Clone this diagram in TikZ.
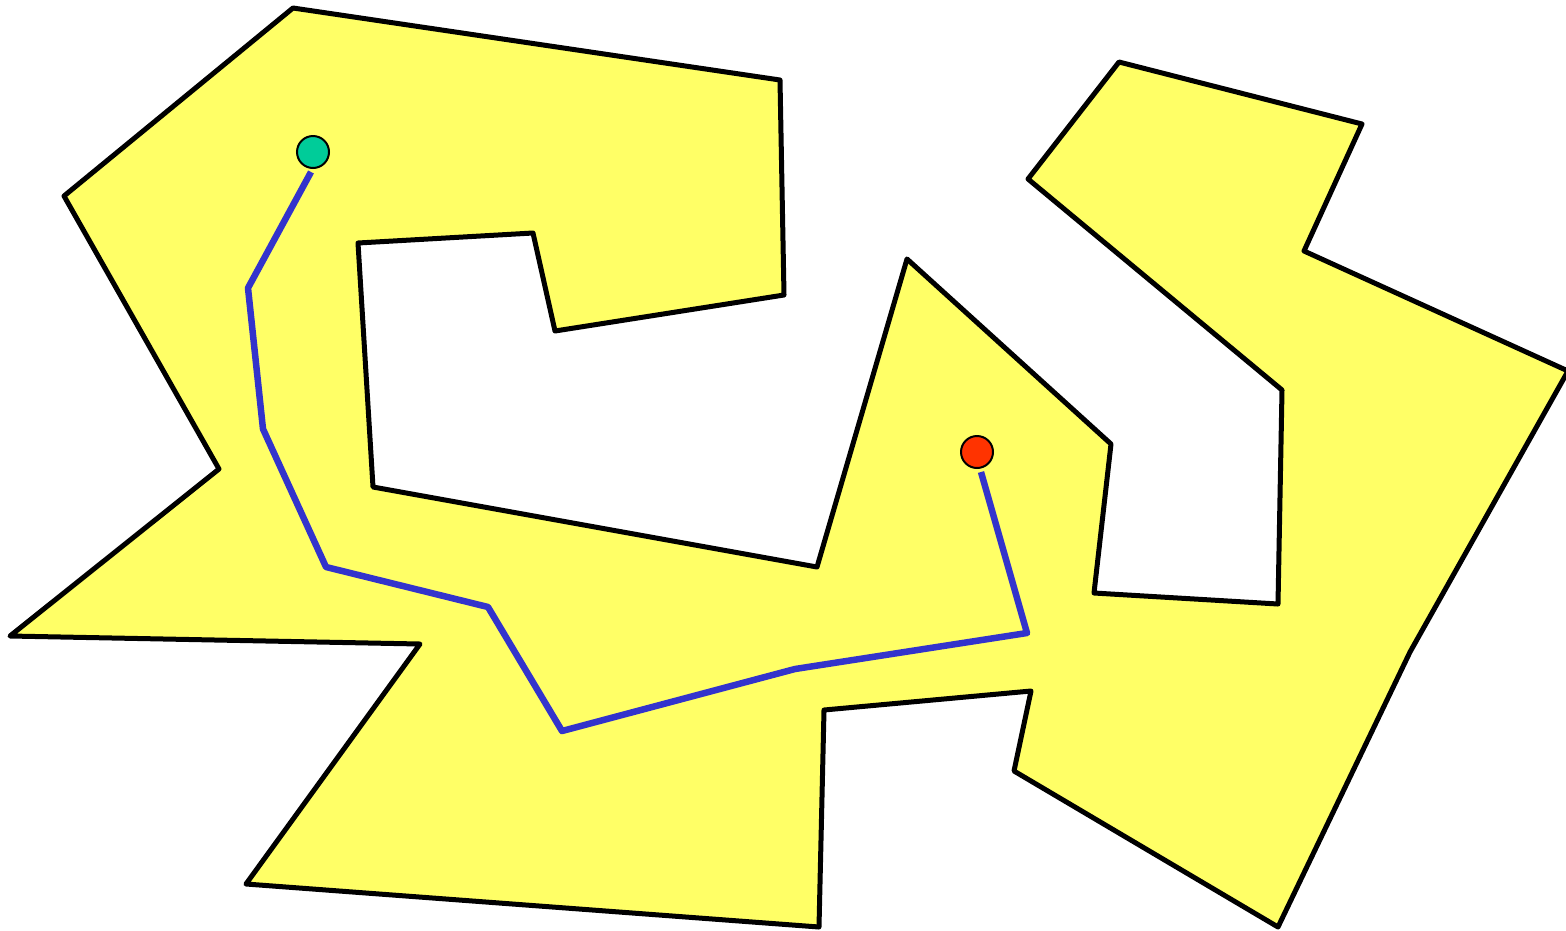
\documentclass[tikz,border=0pt]{standalone}
\definecolor{regionyellow}{HTML}{FFFF66}
\definecolor{startgreen}{HTML}{00CC99}
\definecolor{goalred}{HTML}{FF3300}
\definecolor{pathblue}{HTML}{3333CC}
\tikzset{
  region/.style={fill=regionyellow,draw=black,line width=5pt,line join=round},
  route/.style={draw=pathblue,line width=6.5pt,line join=round},
  endpoint/.style={circle,draw=black,line width=2pt,minimum size=32pt,inner sep=0pt}
}
\begin{document}
\begin{tikzpicture}[x=1pt,y=-1pt]
\useasboundingbox (0,0) rectangle (1566,930);
\clip (0,0) rectangle (1566,930);
\draw[region] (293,8) -- (780,80) -- (784,295) -- (555,331) -- (533,233) -- (358,243)
  -- (373,487) -- (817,567) -- (907,259) -- (1111,444) -- (1094,593) -- (1278,604)
  -- (1282,390) -- (1028,179) -- (1119,62) -- (1362,124) -- (1304,251) -- (1568,371)
  -- (1410,652) -- (1278,927) -- (1014,771) -- (1031,691) -- (824,710) -- (819,927)
  -- (246,884) -- (420,644) -- (10,636) -- (219,469) -- (64,196) -- cycle;
\node[endpoint,fill=startgreen] (start) at (313,152) {};
\node[endpoint,fill=goalred] (goal) at (977,452) {};
\coordinate (p1) at (311,172);
\coordinate (p2) at (248,288);
\coordinate (p3) at (263,429);
\coordinate (p4) at (326,567);
\coordinate (p5) at (488,607);
\coordinate (p6) at (562,731);
\coordinate (p7) at (795,669);
\coordinate (p8) at (1027,633);
\coordinate (p9) at (981,472);
\draw[route] (p1) -- (p2) -- (p3) -- (p4) -- (p5) -- (p6) -- (p7) -- (p8) -- (p9);
\end{tikzpicture}
\end{document}
